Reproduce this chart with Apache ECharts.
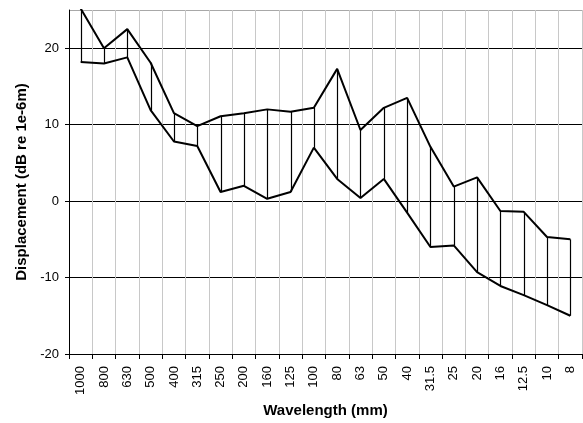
<!DOCTYPE html>
<html>
<head>
<meta charset="utf-8">
<script src="https://cdn.jsdelivr.net/npm/echarts@6/dist/echarts.min.js"></script>
<style>
  html, body { margin: 0; padding: 0; background: #fff; }
  #chart { width: 583px; height: 423px; }
</style>
</head>
<body>
<div id="chart"></div>
<script>
// Wavelength bands (mm)
var wavelengths = ['1000', '800', '630', '500', '400', '315', '250', '200', '160', '125', '100',
                   '80', '63', '50', '40', '31.5', '25', '20', '16', '12.5', '10', '8'];

// Upper and lower displacement envelopes (dB re 1e-6 m)
var upperLevel = [25.2, 20.0, 22.5, 18.1, 11.5, 9.8, 11.1, 11.5, 12.0, 11.7, 12.2,
                  17.3, 9.3, 12.2, 13.5, 7.1, 1.9, 3.1, -1.3, -1.4, -4.7, -5.0];
var lowerLevel = [18.2, 18.0, 18.8, 11.9, 7.8, 7.2, 1.2, 2.0, 0.3, 1.2, 7.0,
                  2.9, 0.4, 2.9, -1.5, -6.0, -5.8, -9.3, -11.1, -12.3, -13.6, -15.0];

// Value axis range and ticks
var yMin = -20, yMax = 25, yStep = 10;

var font = 'Liberation Sans, Arial, sans-serif';
var chart = echarts.init(document.getElementById('chart'), null, { renderer: 'canvas' });

chart.setOption({
  animation: false,
  backgroundColor: '#fff',
  grid: { left: 69, right: 1, top: 10, bottom: 69, containLabel: false },
  xAxis: {
    type: 'category',
    data: wavelengths,
    boundaryGap: true,
    name: 'Wavelength (mm)',
    nameLocation: 'middle',
    nameGap: 49,
    nameTextStyle: { fontFamily: font, fontSize: 15, fontWeight: 'bold', color: '#000' },
    axisLine: { show: true, onZero: false, lineStyle: { color: '#000', width: 1 } },
    axisTick: { show: true, inside: false, length: 5, alignWithLabel: false, lineStyle: { color: '#000' } },
    axisLabel: {
      rotate: 90, interval: 0, margin: 12,
      fontFamily: font, fontSize: 13, color: '#000'
    },
    splitLine: { show: true, interval: 0, lineStyle: { color: '#c8c8c8', width: 1 } }
  },
  yAxis: {
    type: 'value',
    min: yMin, max: yMax, interval: yStep,
    name: 'Displacement (dB re 1e-6m)',
    nameLocation: 'middle',
    nameGap: 37,
    nameRotate: 90,
    nameTextStyle: { fontFamily: font, fontSize: 15, fontWeight: 'bold', color: '#000' },
    axisLine: { show: true, lineStyle: { color: '#000', width: 1 } },
    axisTick: { show: true, inside: false, length: 4, lineStyle: { color: '#000' } },
    axisLabel: { showMaxLabel: false, margin: 10, fontFamily: font, fontSize: 13, color: '#000' },
    splitLine: {
      show: true,
      lineStyle: { color: ['#000', '#000', '#000', '#000', '#000', '#a8a8a8'], width: 1 }
    }
  },
  series: [
    {
      // Vertical high-low lines joining the two envelopes
      type: 'custom',
      clip: true,
      silent: true,
      data: wavelengths.map(function (w, i) { return [i, upperLevel[i], lowerLevel[i]]; }),
      renderItem: function (params, api) {
        var top = api.coord([api.value(0), api.value(1)]);
        var bot = api.coord([api.value(0), api.value(2)]);
        var rect = params.coordSys;
        var y1 = Math.max(top[1], rect.y);
        var x = Math.round(top[0]) + 0.5;
        return {
          type: 'line',
          shape: { x1: x, y1: y1, x2: x, y2: bot[1] },
          style: { stroke: '#000', lineWidth: 1.2 }
        };
      },
      z: 3
    },
    {
      type: 'line',
      data: upperLevel,
      symbol: 'none',
      clip: true,
      lineStyle: { color: '#000', width: 2 },
      z: 4
    },
    {
      type: 'line',
      data: lowerLevel,
      symbol: 'none',
      clip: true,
      lineStyle: { color: '#000', width: 2 },
      z: 4
    }
  ]
});
</script>
</body>
</html>
